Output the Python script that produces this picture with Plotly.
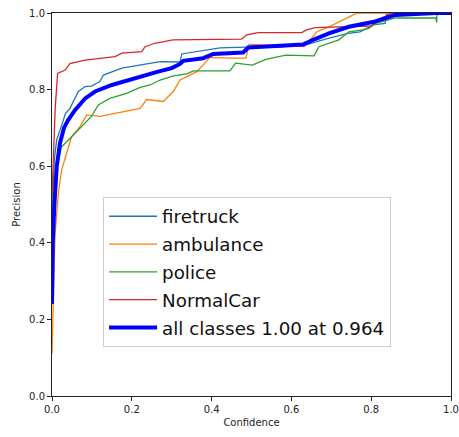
import plotly.graph_objects as go

# ---- data ----
fire_x = [0, 0.002, 0.006, 0.012, 0.022, 0.034, 0.045, 0.066, 0.083, 0.099, 0.12, 0.129, 0.175, 0.225, 0.271, 0.321, 0.325, 0.421, 0.488, 0.563, 0.634, 0.692, 0.742, 0.772, 0.805, 0.835, 0.839, 1.0]
fire_y = [0.30, 0.52, 0.62, 0.67, 0.70, 0.738, 0.751, 0.795, 0.808, 0.809, 0.821, 0.838, 0.856, 0.864, 0.873, 0.872, 0.893, 0.909, 0.911, 0.911, 0.916, 0.934, 0.947, 0.951, 0.969, 0.973, 1.0, 1.0]

amb_x = [0, 0.003, 0.0075, 0.016, 0.024, 0.037, 0.049, 0.07, 0.087, 0.12, 0.221, 0.237, 0.279, 0.304, 0.321, 0.363, 0.396, 0.446, 0.486, 0.494, 0.632, 0.664, 0.694, 0.765, 1.0]
amb_y = [0.11, 0.22, 0.42, 0.53, 0.59, 0.635, 0.677, 0.703, 0.734, 0.73, 0.751, 0.774, 0.769, 0.795, 0.825, 0.847, 0.884, 0.882, 0.882, 0.918, 0.912, 0.951, 0.964, 1.0, 1.0]

pol_x = [0, 0.003, 0.008, 0.016, 0.024, 0.037, 0.062, 0.083, 0.099, 0.116, 0.145, 0.187, 0.221, 0.246, 0.271, 0.304, 0.338, 0.354, 0.446, 0.46, 0.502, 0.536, 0.586, 0.657, 0.669, 0.719, 0.744, 0.778, 0.794, 0.811, 0.861, 0.962, 0.964, 0.965, 1.0]
pol_y = [0.24, 0.50, 0.58, 0.62, 0.651, 0.664, 0.69, 0.712, 0.73, 0.76, 0.777, 0.79, 0.806, 0.812, 0.825, 0.836, 0.841, 0.849, 0.849, 0.869, 0.864, 0.879, 0.89, 0.888, 0.912, 0.93, 0.951, 0.956, 0.96, 0.973, 0.987, 0.987, 0.975, 1.0, 1.0]

car_x = [0, 0.003, 0.008, 0.014, 0.033, 0.045, 0.083, 0.158, 0.175, 0.225, 0.233, 0.258, 0.303, 0.475, 0.488, 0.517, 0.626, 0.638, 0.659, 0.80, 0.81, 0.85, 1.0]
car_y = [0.52, 0.62, 0.75, 0.842, 0.851, 0.868, 0.877, 0.886, 0.895, 0.899, 0.912, 0.921, 0.93, 0.932, 0.943, 0.949, 0.949, 0.956, 0.962, 0.966, 0.975, 1.0, 1.0]

all_x = [0, 0.002, 0.006, 0.012, 0.02, 0.03, 0.04, 0.058, 0.083, 0.108, 0.15, 0.191, 0.233, 0.266, 0.3, 0.321, 0.329, 0.379, 0.404, 0.479, 0.492, 0.546, 0.63, 0.659, 0.694, 0.744, 0.778, 0.807, 0.836, 0.861, 0.964, 1.0]
all_y = [0.24, 0.40, 0.50, 0.60, 0.66, 0.70, 0.72, 0.747, 0.777, 0.795, 0.812, 0.825, 0.838, 0.847, 0.856, 0.867, 0.875, 0.882, 0.893, 0.897, 0.91, 0.913, 0.918, 0.932, 0.947, 0.964, 0.971, 0.977, 0.987, 0.995, 1.0, 1.0]

tick_vals = [0, 0.2, 0.4, 0.6, 0.8, 1.0]
tick_text = ["0.0", "0.2", "0.4", "0.6", "0.8", "1.0"]

series = [
    ("firetruck", fire_x, fire_y, "#1f77b4", 1.3),
    ("ambulance", amb_x, amb_y, "#ff7f0e", 1.3),
    ("police", pol_x, pol_y, "#2ca02c", 1.3),
    ("NormalCar", car_x, car_y, "#d62728", 1.3),
    ("all classes 1.00 at 0.964", all_x, all_y, "#0000ff", 4),
]

fig = go.Figure()
for i, (name, xs, ys, col, w) in enumerate(series):
    fig.add_trace(go.Scatter(x=xs, y=ys, mode="lines", name=name,
                             line=dict(color=col, width=w),
                             legendgroup=f"g{i}"))

axis_common = dict(range=[0, 1], showgrid=False, zeroline=False, automargin=False,
                   showline=True, linecolor="#222", linewidth=1, mirror=True,
                   ticks="outside", ticklen=4, tickcolor="#222",
                   tickvals=tick_vals, ticktext=tick_text,
                   tickfont=dict(size=10, color="#222"))

fig.update_layout(
    width=459, height=437,
    margin=dict(l=52, r=8, t=13, b=41),
    plot_bgcolor="white", paper_bgcolor="white",
    font=dict(family="DejaVu Sans", color="#222"),
    xaxis=dict(**axis_common, title=dict(text="Confidence", font=dict(size=10), standoff=4)),
    yaxis=dict(**axis_common, title=dict(text="Precision", font=dict(size=10), standoff=6)),
    legend=dict(x=0.128, y=0.52, xanchor="left", yanchor="top",
                font=dict(size=18.3, color="#111"),
                bgcolor="rgba(255,255,255,0.85)", bordercolor="#cccccc", borderwidth=1,
                tracegroupgap=1, itemwidth=48),
    showlegend=True,
)

# remove the browser's default 8px body margin so the figure fills the window
fig.write_html("out.html",
               config={"displayModeBar": False},
               post_script="document.body.style.margin='0';document.body.style.overflow='hidden';")
